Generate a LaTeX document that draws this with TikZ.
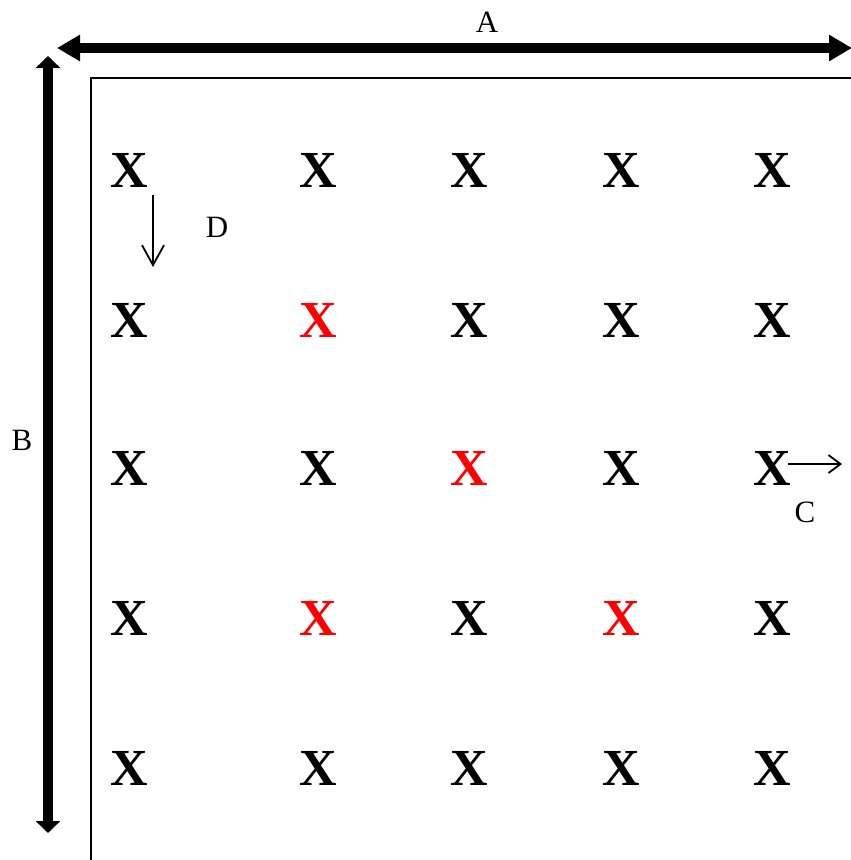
\documentclass[tikz,border=0pt]{standalone}
\usepackage{fontspec}
\setmainfont{Liberation Serif}
\usetikzlibrary{arrows.meta}

\tikzset{
  cross/.style={font=\fontsize{52}{52}\selectfont\bfseries, inner sep=0pt},
  lbl/.style={font=\fontsize{31}{31}\selectfont, inner sep=0pt},
  % highlighted crosses
  x-2-2/.style={text=red}, x-3-3/.style={text=red},
  x-2-4/.style={text=red}, x-4-4/.style={text=red},
}

\begin{document}
\begin{tikzpicture}[x=1pt,y=-1pt]
\useasboundingbox (0,0) rectangle (851,860);
% Frame
\draw[line width=2pt] (91,865) |- (860,78);
% Dimension arrows
\coordinate (a1) at (57,48);
\coordinate (a2) at (852,48);
\coordinate (b1) at (48,56);
\coordinate (b2) at (48,833);
\draw[line width=10pt, {Triangle[length=23pt,width=25pt]}-{Triangle[length=23pt,width=25pt]}] (a1) -- (a2);
\draw[line width=10pt, {Triangle[length=12pt,width=24pt]}-{Triangle[length=12pt,width=24pt]}] (b1) -- (b2);
\node[lbl] (alab) at (487,22) {A};
\node[lbl] (blab) at (22,440) {B};
% Grid of crosses
\foreach \c/\xx in {1/129,2/318,3/469,4/621,5/772}
  \foreach \r/\yy in {1/170,2/320,3/468,4/618,5/768}
    \node[cross, x-\c-\r/.try] (x-\c-\r) at (\xx,\yy) {X};
% Step arrows
\coordinate (d1) at (153,195);
\coordinate (d2) at (153,267);
\draw[line width=1.8pt, -{Straight Barb[length=20pt,width=22pt]}] (d1) -- (d2);
\node[lbl] (dlab) at (217,227) {D};
\coordinate (c1) at (788,464);
\coordinate (c2) at (842,464);
\draw[line width=1.8pt, -{Straight Barb[length=12pt,width=18pt]}] (c1) -- (c2);
\node[lbl] (clab) at (805,512) {C};
\end{tikzpicture}
\end{document}
